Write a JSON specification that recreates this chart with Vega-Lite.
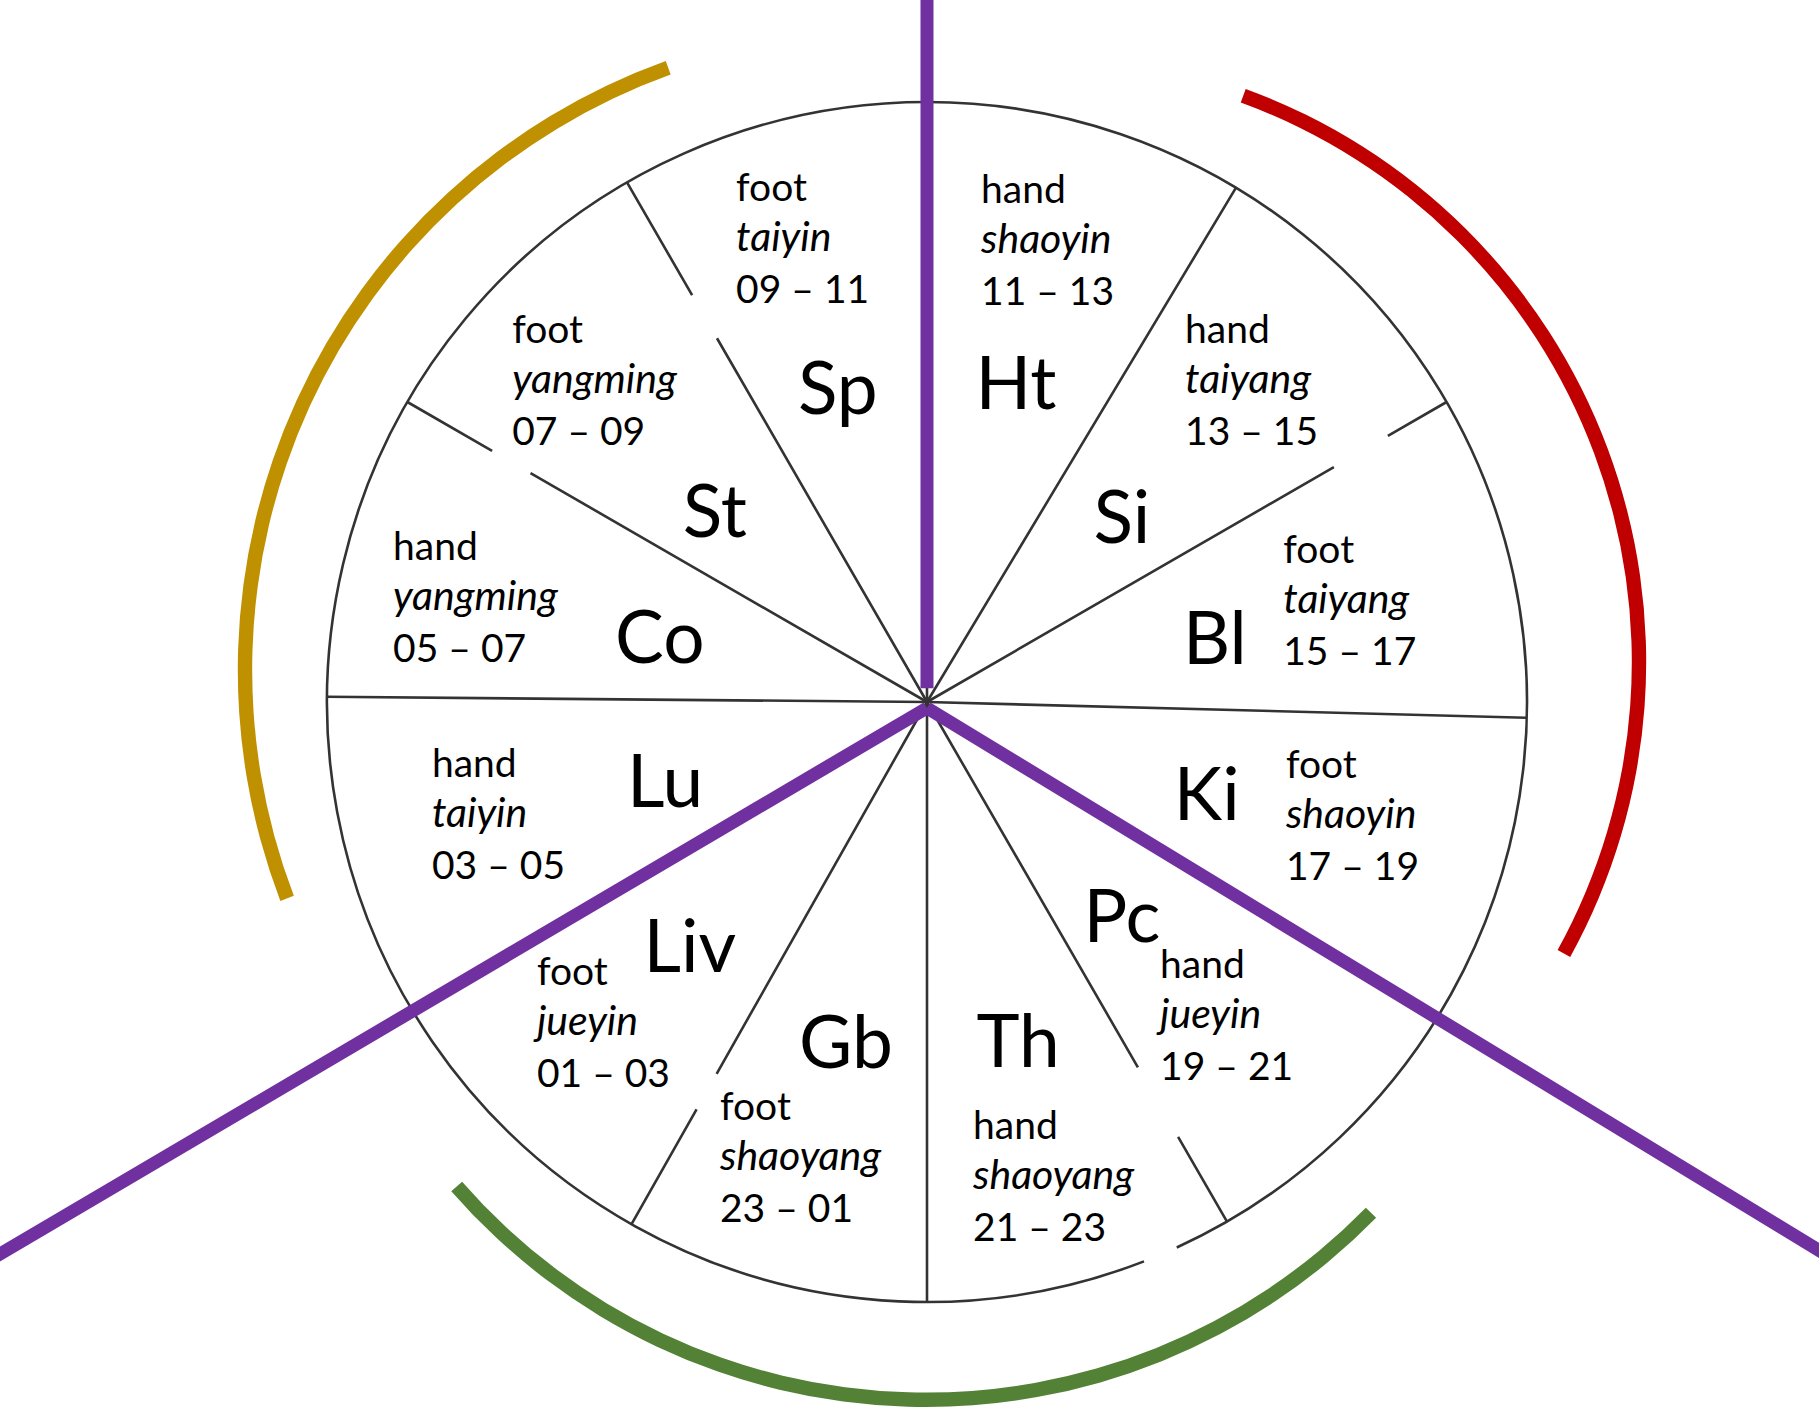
{
  "$schema": "https://vega.github.io/schema/vega-lite/v6.json",
  "width": 1784,
  "height": 1404,
  "autosize": {"type": "none"},
  "padding": {"left": 35, "top": 0, "right": 0, "bottom": 4},
  "background": "white",
  "config": {"view": {"stroke": null}},
  "datasets": {
    "circle": [
      {"start": 0, "end": 155.4, "r": 100},
      {"start": 158.8, "end": 360, "r": 100}
    ],
    "spokes": [
      {"angle": 0, "r0": 0, "r1": 100},
      {"angle": 31, "r0": 0, "r1": 100},
      {"angle": 60, "r0": 0, "r1": 78.3},
      {"angle": 60, "r0": 88.7, "r1": 100},
      {"angle": 91.5, "r0": 0, "r1": 100},
      {"angle": 150, "r0": 0, "r1": 70.3},
      {"angle": 150, "r0": 83.7, "r1": 100},
      {"angle": 180, "r0": 0, "r1": 100},
      {"angle": 209.5, "r0": 0, "r1": 71.2},
      {"angle": 209.5, "r0": 78, "r1": 100},
      {"angle": 270.5, "r0": 0, "r1": 100},
      {"angle": 300, "r0": 0, "r1": 76.3},
      {"angle": 300, "r0": 83.7, "r1": 100},
      {"angle": 330, "r0": 0, "r1": 70},
      {"angle": 330, "r0": 78.3, "r1": 100}
    ],
    "circuits": [
      {"circuit": "taiyin–yangming", "start": 249.1, "end": 340.2, "outer": 107.87, "inner": 105.47},
      {"circuit": "shaoyin–taiyang", "start": 20.1, "end": 118.9, "outer": 101.7, "inner": 99.3},
      {"circuit": "jueyin–shaoyang", "start": 134.4, "end": 228.9, "outer": 105.0, "inner": 102.6}
    ],
    "dividers": [
      {"angle": 0, "r0": 3.3, "r1": 120},
      {"angle": 121.3, "r0": 0, "r1": 185},
      {"angle": 239.5, "r0": 0, "r1": 185}
    ],
    "labels": [
      {"organ": "Ht", "side": "hand", "channel": "shaoyin", "hours": "11 – 13", "bigTheta": 16.9, "bigR": 51.0, "blockTheta": 6.86, "blockR": 75.4},
      {"organ": "Si", "side": "hand", "channel": "taiyang", "hours": "13 – 15", "bigTheta": 50.8, "bigR": 41.9, "blockTheta": 39.86, "blockR": 67.1},
      {"organ": "Bl", "side": "foot", "channel": "taiyang", "hours": "15 – 17", "bigTheta": 82.5, "bigR": 48.4, "blockTheta": 75.96, "blockR": 61.2},
      {"organ": "Ki", "side": "foot", "channel": "shaoyin", "hours": "17 – 19", "bigTheta": 112.85, "bigR": 50.6, "blockTheta": 109.34, "blockR": 63.4},
      {"organ": "Pc", "side": "hand", "channel": "jueyin", "hours": "19 – 21", "bigTheta": 140.9, "bigR": 51.5, "blockTheta": 144.44, "blockR": 66.8},
      {"organ": "Th", "side": "hand", "channel": "shaoyang", "hours": "21 – 23", "bigTheta": 166.0, "bigR": 62.7, "blockTheta": 174.6, "blockR": 81.5},
      {"organ": "Gb", "side": "foot", "channel": "shaoyang", "hours": "23 – 01", "bigTheta": 192.5, "bigR": 62.5, "blockTheta": 203.86, "blockR": 85.3},
      {"organ": "Liv", "side": "foot", "channel": "jueyin", "hours": "01 – 03", "bigTheta": 221.3, "bigR": 59.9, "blockTheta": 229.5, "blockR": 85.5},
      {"organ": "Lu", "side": "hand", "channel": "taiyin", "hours": "03 – 05", "bigTheta": 248.2, "bigR": 47.0, "blockTheta": 255.83, "blockR": 85.1},
      {"organ": "Co", "side": "hand", "channel": "yangming", "hours": "05 – 07", "bigTheta": 278.3, "bigR": 45.0, "blockTheta": 279.78, "blockR": 90.3},
      {"organ": "St", "side": "foot", "channel": "yangming", "hours": "07 – 09", "bigTheta": 307.9, "bigR": 44.8, "blockTheta": 306.67, "blockR": 86.2},
      {"organ": "Sp", "side": "foot", "channel": "taiyin", "hours": "09 – 11", "bigTheta": 342.8, "bigR": 50.2, "blockTheta": 337.05, "blockR": 81.6}
    ]
  },
  "layer": [
    {
      "data": {"name": "circle"},
      "mark": {"type": "arc", "filled": false, "stroke": "#333333", "strokeWidth": 2.6},
      "encoding": {
        "theta": {"field": "start", "type": "quantitative", "stack": null, "scale": {"type": "linear", "domain": [0, 360], "range": [0, 6.283185307179586]}},
        "theta2": {"field": "end"},
        "radius": {"field": "r", "type": "quantitative", "scale": {"type": "linear", "domain": [0, 100], "range": [0, 600]}},
        "radius2": {"field": "r"}
      }
    },
    {
      "data": {"name": "spokes"},
      "mark": {"type": "arc", "filled": false, "stroke": "#333333", "strokeWidth": 2.6, "strokeJoin": "bevel"},
      "encoding": {
        "theta": {"field": "angle", "type": "quantitative", "stack": null, "scale": {"type": "linear", "domain": [0, 360], "range": [0, 6.283185307179586]}},
        "theta2": {"field": "angle"},
        "radius": {"field": "r1", "type": "quantitative", "scale": {"type": "linear", "domain": [0, 100], "range": [0, 600]}},
        "radius2": {"field": "r0"}
      }
    },
    {
      "data": {"name": "circuits"},
      "transform": [{"filter": "datum.circuit === 'taiyin–yangming'"}],
      "mark": {"type": "arc", "xOffset": -42, "yOffset": -32},
      "encoding": {
        "theta": {"field": "start", "type": "quantitative", "stack": null, "scale": {"type": "linear", "domain": [0, 360], "range": [0, 6.283185307179586]}},
        "theta2": {"field": "end"},
        "radius": {"field": "outer", "type": "quantitative", "scale": {"type": "linear", "domain": [0, 100], "range": [0, 600]}},
        "radius2": {"field": "inner"},
        "color": {"field": "circuit", "type": "nominal", "legend": null, "scale": {"domain": ["taiyin–yangming", "shaoyin–taiyang", "jueyin–shaoyang"], "range": ["#BF9000", "#C00000", "#538135"]}}
      }
    },
    {
      "data": {"name": "circuits"},
      "transform": [{"filter": "datum.circuit === 'shaoyin–taiyang'"}],
      "mark": {"type": "arc", "xOffset": 109, "yOffset": -40},
      "encoding": {
        "theta": {"field": "start", "type": "quantitative", "stack": null, "scale": {"type": "linear", "domain": [0, 360], "range": [0, 6.283185307179586]}},
        "theta2": {"field": "end"},
        "radius": {"field": "outer", "type": "quantitative", "scale": {"type": "linear", "domain": [0, 100], "range": [0, 600]}},
        "radius2": {"field": "inner"},
        "color": {"field": "circuit", "type": "nominal", "legend": null, "scale": {"domain": ["taiyin–yangming", "shaoyin–taiyang", "jueyin–shaoyang"], "range": ["#BF9000", "#C00000", "#538135"]}}
      }
    },
    {
      "data": {"name": "circuits"},
      "transform": [{"filter": "datum.circuit === 'jueyin–shaoyang'"}],
      "mark": {"type": "arc", "xOffset": -1, "yOffset": 75},
      "encoding": {
        "theta": {"field": "start", "type": "quantitative", "stack": null, "scale": {"type": "linear", "domain": [0, 360], "range": [0, 6.283185307179586]}},
        "theta2": {"field": "end"},
        "radius": {"field": "outer", "type": "quantitative", "scale": {"type": "linear", "domain": [0, 100], "range": [0, 600]}},
        "radius2": {"field": "inner"},
        "color": {"field": "circuit", "type": "nominal", "legend": null, "scale": {"domain": ["taiyin–yangming", "shaoyin–taiyang", "jueyin–shaoyang"], "range": ["#BF9000", "#C00000", "#538135"]}}
      }
    },
    {
      "data": {"name": "dividers"},
      "mark": {"type": "arc", "filled": false, "stroke": "#7030A0", "strokeWidth": 13, "strokeJoin": "bevel", "strokeCap": "butt", "yOffset": 6},
      "encoding": {
        "theta": {"field": "angle", "type": "quantitative", "stack": null, "scale": {"type": "linear", "domain": [0, 360], "range": [0, 6.283185307179586]}},
        "theta2": {"field": "angle"},
        "radius": {"field": "r1", "type": "quantitative", "scale": {"type": "linear", "domain": [0, 100], "range": [0, 600]}},
        "radius2": {"field": "r0"}
      }
    },
    {
      "data": {"name": "labels"},
      "mark": {"type": "text", "font": "Lato", "fontSize": 73, "align": "center", "baseline": "alphabetic", "color": "black"},
      "encoding": {
        "theta": {"field": "bigTheta", "type": "quantitative", "stack": null, "scale": {"type": "linear", "domain": [0, 360], "range": [0, 6.283185307179586]}},
        "radius": {"field": "bigR", "type": "quantitative", "scale": {"type": "linear", "domain": [0, 100], "range": [0, 600]}},
        "text": {"field": "organ"}
      }
    },
    {
      "data": {"name": "labels"},
      "mark": {"type": "text", "font": "Lato", "fontSize": 39, "align": "left", "baseline": "alphabetic", "color": "black", "dy": -50},
      "encoding": {
        "theta": {"field": "blockTheta", "type": "quantitative", "stack": null, "scale": {"type": "linear", "domain": [0, 360], "range": [0, 6.283185307179586]}},
        "radius": {"field": "blockR", "type": "quantitative", "scale": {"type": "linear", "domain": [0, 100], "range": [0, 600]}},
        "text": {"field": "side"}
      }
    },
    {
      "data": {"name": "labels"},
      "mark": {"type": "text", "font": "Lato", "fontSize": 41, "fontStyle": "italic", "align": "left", "baseline": "alphabetic", "color": "black"},
      "encoding": {
        "theta": {"field": "blockTheta", "type": "quantitative", "stack": null, "scale": {"type": "linear", "domain": [0, 360], "range": [0, 6.283185307179586]}},
        "radius": {"field": "blockR", "type": "quantitative", "scale": {"type": "linear", "domain": [0, 100], "range": [0, 600]}},
        "text": {"field": "channel"}
      }
    },
    {
      "data": {"name": "labels"},
      "mark": {"type": "text", "font": "Lato", "fontSize": 39, "align": "left", "baseline": "alphabetic", "color": "black", "dy": 52},
      "encoding": {
        "theta": {"field": "blockTheta", "type": "quantitative", "stack": null, "scale": {"type": "linear", "domain": [0, 360], "range": [0, 6.283185307179586]}},
        "radius": {"field": "blockR", "type": "quantitative", "scale": {"type": "linear", "domain": [0, 100], "range": [0, 600]}},
        "text": {"field": "hours"}
      }
    }
  ]
}
